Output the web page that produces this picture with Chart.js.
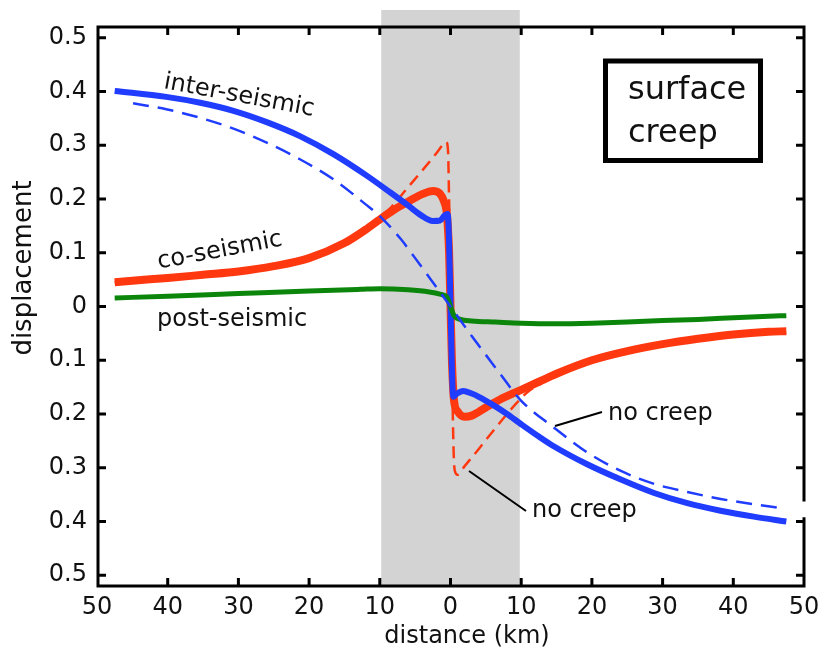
<!DOCTYPE html>
<html>
<head>
<meta charset="utf-8">
<script src="https://cdn.jsdelivr.net/npm/chart.js@4.4.0/dist/chart.umd.min.js"></script>
<style>
  body { margin: 0; background: #fff; }
  canvas { display: block; }
</style>
</head>
<body>
<canvas id="grafico" width="827" height="649"></canvas>
<script>
// distancia (km) y desplazamiento de cada curva
const X_INTER = [-47.5, -40.2, -35.4, -30.7, -26, -21.3, -16.5, -11.8, -8.5, -6, -4.2, -2.5, -1.5, -0.8, -0.4, 0.4, 0.8, 1.8, 3, 4, 6, 8, 10, 12.5, 14.6, 19.4, 24.1, 28.8, 33.5, 38.2, 42.9, 47.5];
const Y_INTER = [0.401, 0.390, 0.379, 0.364, 0.343, 0.317, 0.283, 0.243, 0.212, 0.188, 0.170, 0.159, 0.160, 0.170, 0.172, -0.168, -0.163, -0.157, -0.162, -0.168, -0.183, -0.200, -0.219, -0.242, -0.260, -0.294, -0.322, -0.347, -0.366, -0.380, -0.391, -0.400];

const X_INTER_NC = [-44.9, -40.2, -35.4, -30.7, -26, -21.3, -16.5, -12, -10, -7, -5, -3, 0, 3, 5, 7, 9.9, 14.6, 19.4, 24.1, 28.8, 33.5, 38.2, 42.9, 46.7];
const Y_INTER_NC = [0.378, 0.367, 0.351, 0.331, 0.305, 0.274, 0.236, 0.190, 0.168, 0.125, 0.090, 0.054, 0, -0.055, -0.090, -0.125, -0.174, -0.225, -0.272, -0.306, -0.330, -0.345, -0.358, -0.368, -0.375];

const X_CO = [-47.5, -45, -40, -35, -30, -25, -20, -15, -12, -10, -8, -6, -4, -2.5, -1.5, -0.9, -0.5, -0.2, 0, 0.2, 0.5, 1, 2, 3, 4, 5, 7, 10, 12.5, 15, 20, 25, 30, 35, 40, 45, 47.5];
const Y_CO = [0.045, 0.048, 0.053, 0.059, 0.065, 0.075, 0.090, 0.118, 0.143, 0.162, 0.180, 0.195, 0.209, 0.215, 0.210, 0.195, 0.170, 0.100, 0, -0.100, -0.175, -0.195, -0.205, -0.203, -0.196, -0.188, -0.173, -0.155, -0.140, -0.125, -0.100, -0.083, -0.070, -0.060, -0.052, -0.047, -0.046];

const X_CO_NC = [-47.5, -40, -30, -20, -15, -10, -8.3, -6, -4, -2, -1, -0.6, -0.35, -0.2, 0.1, 0.4, 0.6, 1, 2, 4, 6, 8, 9.4, 11, 13, 15, 20, 25, 30, 35, 40, 45, 47.5];
const Y_CO_NC = [0.045, 0.053, 0.065, 0.090, 0.118, 0.165, 0.186, 0.222, 0.253, 0.285, 0.302, 0.306, 0.290, 0.200, 0, -0.250, -0.305, -0.313, -0.297, -0.265, -0.232, -0.200, -0.179, -0.158, -0.142, -0.129, -0.104, -0.087, -0.073, -0.063, -0.055, -0.050, -0.049];

const X_POST = [-47.5, -40, -30, -20, -12.7, -10, -6, -3, -1.5, -0.5, 0, 0.5, 1.4, 3, 6.4, 10, 15, 20, 25, 30, 35, 40, 45, 47.5];
const Y_POST = [0.016, 0.019, 0.024, 0.029, 0.032, 0.033, 0.031, 0.027, 0.023, 0.017, 0, -0.017, -0.024, -0.027, -0.029, -0.031, -0.032, -0.031, -0.029, -0.026, -0.024, -0.021, -0.018, -0.017];

// zona gris (km)
const ZONA = [-9.8, 9.8];

const FUENTE = "'DejaVu Sans', sans-serif";
const AZUL = '#1f3cff';
const ROJO = '#ff3810';
const VERDE = '#0b860b';

function puntos(xs, ys) {
    return xs.map((x, i) => ({ x: x, y: ys[i] }));
}

function serie(xs, ys, color, ancho, guion) {
    return {
        data: puntos(xs, ys),
        borderColor: color,
        borderWidth: ancho,
        borderDash: guion || [],
        pointRadius: 0,
        fill: false,
        cubicInterpolationMode: 'monotone'
    };
}

// zona gris detras de las curvas
const pluginZona = {
    id: 'zona',
    beforeDatasetsDraw(chart) {
        const { ctx, chartArea, scales } = chart;
        const x0 = scales.x.getPixelForValue(ZONA[0]);
        const x1 = scales.x.getPixelForValue(ZONA[1]);
        ctx.save();
        ctx.fillStyle = '#d3d3d3';
        ctx.fillRect(x0, 10, x1 - x0, chartArea.bottom - 10);
        ctx.restore();
    }
};

// marco, marcas hacia dentro y textos
const pluginMarco = {
    id: 'marco',
    afterDraw(chart) {
        const { ctx, chartArea: a, scales } = chart;
        ctx.save();
        ctx.strokeStyle = '#000';
        ctx.lineWidth = 3;
        ctx.lineCap = 'square';

        // ejes
        ctx.beginPath();
        ctx.moveTo(a.left + 1, a.top);
        ctx.lineTo(a.right, a.top);
        ctx.moveTo(a.left + 1, a.top);
        ctx.lineTo(a.left + 1, a.bottom);
        ctx.lineTo(a.right, a.bottom);
        ctx.moveTo(a.right, a.bottom);
        ctx.lineTo(a.right, scales.y.getPixelForValue(-0.395));
        ctx.moveTo(a.right, scales.y.getPixelForValue(-0.360));
        ctx.lineTo(a.right, a.top);
        ctx.stroke();

        // marcas
        ctx.lineCap = 'butt';
        ctx.beginPath();
        scales.x.ticks.forEach(t => {
            if (Math.abs(t.value) > 49) return;
            const px = scales.x.getPixelForValue(t.value);
            ctx.moveTo(px, a.bottom);
            ctx.lineTo(px, a.bottom - 8);
            ctx.moveTo(px, a.top);
            ctx.lineTo(px, a.top + 8);
        });
        scales.y.ticks.forEach(t => {
            const py = scales.y.getPixelForValue(t.value);
            ctx.moveTo(a.left, py);
            ctx.lineTo(a.left + 9, py);
            ctx.moveTo(a.right, py);
            ctx.lineTo(a.right - 8, py);
        });
        ctx.stroke();

        // recuadro "surface creep"
        ctx.lineWidth = 5;
        ctx.strokeRect(605.5, 61, 155, 99.5);

        ctx.fillStyle = '#111';
        ctx.textBaseline = 'alphabetic';
        ctx.textAlign = 'left';
        ctx.font = '32px ' + FUENTE;
        ctx.fillText('surface', 628, 99);
        ctx.fillText('creep', 628, 142);

        // etiquetas de las curvas
        ctx.font = '24px ' + FUENTE;
        ctx.fillText('post-seismic', 157, 326);
        ctx.fillText('no creep', 608, 420);
        ctx.fillText('no creep', 532, 517);

        ctx.textAlign = 'center';
        ctx.save();
        ctx.translate(238, 102);
        ctx.rotate(10.5 * Math.PI / 180);
        ctx.fillText('inter-seismic', 0, 0);
        ctx.restore();

        ctx.save();
        ctx.translate(221, 257);
        ctx.rotate(-10.5 * Math.PI / 180);
        ctx.fillText('co-seismic', 0, 0);
        ctx.restore();

        // lineas guia
        ctx.lineWidth = 2;
        ctx.strokeStyle = '#000';
        ctx.beginPath();
        ctx.moveTo(555, 426);
        ctx.lineTo(602, 412);
        ctx.moveTo(469, 471);
        ctx.lineTo(526, 511);
        ctx.stroke();

        // titulos de ejes
        ctx.fillText('distance (km)', 467, 643);
        ctx.save();
        ctx.font = '26px ' + FUENTE;
        ctx.translate(31, 268);
        ctx.rotate(-Math.PI / 2);
        ctx.fillText('displacement', 0, 0);
        ctx.restore();

        ctx.restore();
    }
};

new Chart(document.getElementById('grafico'), {
    type: 'line',
    data: {
        datasets: [
            serie(X_INTER_NC, Y_INTER_NC, AZUL, 2.5, [16, 9]),
            serie(X_POST, Y_POST, VERDE, 5),
            serie(X_INTER, Y_INTER, AZUL, 6),
            serie(X_CO, Y_CO, ROJO, 8),
            serie(X_CO_NC, Y_CO_NC, ROJO, 2.5, [12, 7])
        ]
    },
    options: {
        responsive: false,
        animation: false,
        devicePixelRatio: 1,
        layout: { padding: { top: 27, right: 23, left: 0, bottom: 0 } },
        plugins: {
            legend: { display: false },
            tooltip: { enabled: false }
        },
        scales: {
            x: {
                type: 'linear',
                min: -50,
                max: 50,
                grid: { display: false, drawTicks: false },
                border: { display: false },
                ticks: {
                    stepSize: 10,
                    padding: 7,
                    color: '#111',
                    font: { family: FUENTE, size: 24 },
                    maxRotation: 0,
                    callback: v => String(Math.abs(Math.round(v)))
                },
                afterFit: s => { s.height = 63; }
            },
            y: {
                min: -0.52,
                max: 0.52,
                grid: { display: false, drawTicks: false },
                border: { display: false },
                ticks: {
                    stepSize: 0.1,
                    includeBounds: false,
                    padding: 10,
                    color: '#111',
                    font: { family: FUENTE, size: 24 },
                    callback: v => Math.abs(v) < 1e-9 ? '0' : Math.abs(v).toFixed(1)
                },
                afterFit: s => { s.width = 97; }
            }
        }
    },
    plugins: [pluginZona, pluginMarco]
});
</script>
</body>
</html>
